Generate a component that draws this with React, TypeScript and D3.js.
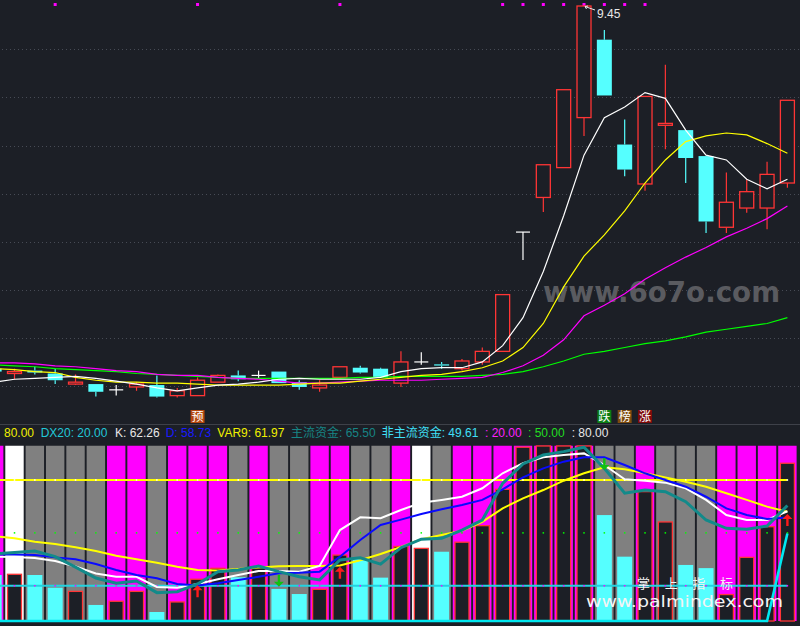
import React from "react";
import * as d3 from "d3";

// ---------------- data (index -1 .. 38) ----------------
const openP = [5.68, 5.63, 5.66, 5.63, 5.52, 5.52, 5.46, 5.49, 5.51, 5.40, 5.40, 5.54, 5.61, 5.61, 5.65, 5.54, 5.48, 5.59, 5.69, 5.68, 5.53, 5.75, 5.725, 5.68, 5.75, 5.86, 7.10, 7.46, 7.77, 8.29, 9.10, 8.01, 7.60, 8.21, 8.16, 7.89, 7.15, 7.35, 7.35, 7.61];
const highP = [5.69, 5.68, 5.70, 5.68, 5.62, 5.52, 5.51, 5.54, 5.61, 5.48, 5.59, 5.62, 5.66, 5.66, 5.65, 5.56, 5.56, 5.70, 5.71, 5.69, 5.86, 5.85, 5.75, 5.78, 5.90, 6.45, 7.10, 7.80, 8.58, 9.45, 9.20, 8.27, 8.51, 8.84, 8.16, 7.89, 7.72, 7.65, 7.83, 8.47];
const lowP = [5.64, 5.57, 5.62, 5.52, 5.51, 5.39, 5.40, 5.45, 5.38, 5.38, 5.40, 5.54, 5.55, 5.58, 5.53, 5.46, 5.44, 5.59, 5.63, 5.59, 5.49, 5.72, 5.68, 5.66, 5.72, 5.86, 6.81, 7.31, 7.77, 8.10, 8.52, 7.68, 7.53, 7.96, 7.61, 7.09, 7.09, 7.30, 7.13, 7.56];
const closeP = [5.65, 5.65, 5.64, 5.56, 5.54, 5.44, 5.46, 5.52, 5.39, 5.45, 5.56, 5.61, 5.57, 5.61, 5.53, 5.49, 5.51, 5.70, 5.64, 5.59, 5.75, 5.75, 5.72, 5.76, 5.86, 6.45, 7.10, 7.80, 8.58, 9.45, 8.52, 7.75, 8.51, 8.23, 7.87, 7.21, 7.41, 7.52, 7.70, 8.47];

const ma5 = [5.54, 5.57, 5.58, 5.59, 5.60, 5.58, 5.55, 5.52, 5.48, 5.45, 5.48, 5.51, 5.52, 5.54, 5.57, 5.58, 5.57, 5.57, 5.57, 5.59, 5.65, 5.68, 5.69, 5.69, 5.75, 5.92, 6.21, 6.69, 7.27, 7.90, 8.29, 8.40, 8.55, 8.49, 8.16, 7.90, 7.85, 7.65, 7.55, 7.65];
const ma10 = [5.68, 5.67, 5.65, 5.64, 5.59, 5.56, 5.54, 5.54, 5.53, 5.53, 5.52, 5.51, 5.51, 5.51, 5.51, 5.52, 5.53, 5.53, 5.55, 5.57, 5.59, 5.61, 5.62, 5.65, 5.69, 5.76, 5.90, 6.15, 6.53, 6.85, 7.07, 7.32, 7.61, 7.85, 8.04, 8.10, 8.13, 8.11, 8.02, 7.92];
const ma20 = [5.74, 5.74, 5.73, 5.71, 5.70, 5.68, 5.66, 5.65, 5.62, 5.61, 5.61, 5.59, 5.58, 5.57, 5.55, 5.53, 5.53, 5.54, 5.55, 5.56, 5.56, 5.56, 5.57, 5.58, 5.59, 5.64, 5.71, 5.82, 5.98, 6.23, 6.34, 6.46, 6.61, 6.73, 6.84, 6.94, 7.05, 7.14, 7.24, 7.37];
const ma60 = [5.72, 5.71, 5.70, 5.68, 5.67, 5.66, 5.65, 5.63, 5.62, 5.61, 5.60, 5.59, 5.58, 5.58, 5.58, 5.58, 5.58, 5.58, 5.59, 5.59, 5.60, 5.60, 5.60, 5.60, 5.61, 5.62, 5.65, 5.70, 5.76, 5.83, 5.86, 5.90, 5.94, 5.97, 6.01, 6.06, 6.09, 6.12, 6.15, 6.21];

const priceGrid = [5.5, 6, 6.5, 7, 7.5, 8, 8.5, 9];
const peakLabel = "9.45";
const peakIndex = 28;
const topMarks = [2, 9, 16, 24, 25, 26, 27, 28, 29, 30, 31];
const eventTags = [
  { i: 9, text: "预", kind: "pre" },
  { i: 29, text: "跌", kind: "fall" },
  { i: 30, text: "榜", kind: "list" },
  { i: 31, text: "涨", kind: "rise" },
];

const volume = [26.1, 26.5, 26.1, 18.9, 16.8, 9.1, 11.2, 16.8, 5.1, 10.8, 23.7, 29.9, 24.8, 30.5, 18.2, 15.3, 18.0, 37.4, 35.6, 24.6, 42.3, 41.2, 39.3, 44.7, 54.1, 74.7, 98.6, 99.3, 99.3, 99.3, 60.1, 36.5, 73.4, 56.2, 31.8, 30.0, 15.0, 36.1, 53.5, 89.5];
const zoneState = ["M", "W", "G", "G", "G", "G", "M", "M", "G", "M", "M", "M", "G", "M", "G", "G", "M", "M", "G", "G", "M", "W", "G", "M", "M", "M", "M", "M", "M", "M", "G", "G", "M", "G", "G", "G", "M", "M", "M", "M"];

const kLine = [36.6, 36.3, 35.7, 34.0, 30.9, 27.0, 25.1, 25.1, 19.3, 18.9, 21.0, 23.7, 26.1, 28.4, 28.4, 28.0, 31.2, 51.6, 58.8, 58.3, 63.0, 67.1, 68.7, 70.5, 75.3, 83.8, 89.5, 92.9, 94.2, 95.1, 88.5, 80.4, 79.6, 78.5, 75.3, 68.7, 60.1, 57.3, 57.3, 62.26];
const dLine = [37.7, 37.7, 37.4, 36.1, 35.0, 32.3, 28.9, 26.1, 24.2, 21.0, 20.1, 21.4, 23.3, 25.1, 27.1, 27.4, 28.0, 36.5, 46.0, 54.5, 57.5, 60.7, 63.4, 65.8, 68.7, 74.7, 81.5, 86.6, 90.4, 92.9, 92.9, 88.5, 83.8, 80.0, 76.2, 70.5, 63.9, 60.1, 57.9, 58.73];
const var9 = [48.2, 46.9, 45.0, 43.7, 41.8, 39.7, 37.0, 35.0, 33.1, 30.8, 28.9, 28.7, 29.5, 30.4, 31.0, 31.2, 31.2, 31.5, 34.5, 38.0, 42.0, 46.4, 48.8, 51.2, 56.3, 63.9, 69.6, 74.3, 79.6, 83.8, 87.2, 86.1, 83.8, 81.5, 79.0, 76.2, 72.5, 68.7, 64.9, 61.97];
const mainFund = [38.0, 38.8, 39.7, 36.5, 30.6, 24.4, 21.4, 22.7, 16.1, 16.6, 21.0, 28.0, 28.9, 31.2, 28.0, 25.1, 23.3, 34.6, 35.9, 32.3, 41.6, 46.4, 46.9, 51.6, 57.3, 78.1, 89.1, 94.2, 96.1, 98.6, 86.6, 72.5, 74.3, 73.4, 67.7, 57.3, 52.6, 52.0, 53.9, 65.5];
const otherFund = [0, 0, 0, 0, 0, 0, 0, 0, 0, 0, 0, 0, 0, 0, 0, 0, 0, 0, 0, 0, 0, 0, 0, 0, 0, 0, 0, 0, 0, 0, 0, 0, 0, 0, 0, 0, 0, 0, 0, 49.61];
const levelSolid = [80, 20];
const levelDots = [20, 50, 80];
const signals = [
  { i: 9, dir: "up", v: 20.3 },
  { i: 13, dir: "down", v: 19.5 },
  { i: 16, dir: "up", v: 30.8 },
  { i: 29, dir: "down", v: 85.7 },
  { i: 38, dir: "up", v: 60.7 },
];

const headerLabels = ["", "DX20: ", "K: ", "D: ", "VAR9: ", "主流资金: ", "非主流资金: ", ": ", ": ", ": "];
const headerValues = ["80.00", "20.00", "62.26", "58.73", "61.97", "65.50", "49.61", "20.00", "50.00", "80.00"];

// ---------------- styles / layout ----------------
const BG = "#1c1f26";
const RED = "#ff3535";
const CYAN = "#55ffff";
const headerColors = ["#f0f000", "#22c8d8", "#e8e8e8", "#1a1aff", "#f0f000", "#178585", "#40e0f8", "#ff22ff", "#22dd22", "#e8e8e8"];
const headerX = [4, 40.7, 115, 165.7, 217.3, 291, 381.7, 485, 528, 571.7];
const zoneColor: Record<string, string> = { M: "#ff00ff", W: "#ffffff", G: "#808080" };
const tagColor: Record<string, string> = { pre: "#b4460e", fall: "#0b7d12", list: "#7d4a0e", rise: "#7d0b0b" };

const FIRST = -1;
const idx = openP.map((_, k) => k + FIRST);

export default function App() {
  const x = d3.scaleLinear().domain([0, 38]).range([14.5, 787.4]);
  const yP = d3.scaleLinear().domain([5.5, 9.0]).range([386, 49.3]);
  const yB = d3.scaleLinear().domain([0, 100]).range([621, 444.75]);
  const bodyW = 14;

  const priceLine = (arr: number[]) =>
    d3.line<number>().x((_, k) => x(k + FIRST)).y((v) => yP(v))(arr) || "";
  const panelLine = (arr: number[]) =>
    d3.line<number>().x((_, k) => x(k + FIRST)).y((v) => yB(v))(arr) || "";

  const candles = idx.map((i, k) => {
    const o = openP[k], c = closeP[k], h = highP[k], l = lowP[k];
    const xc = x(i);
    const top = yP(Math.max(o, c));
    const bot = yP(Math.min(o, c));
    const up = c > o, down = c < o;
    if (!up && !down) {
      return (
        <g key={"c" + i} stroke="#ffffff" strokeWidth={1.2}>
          <line x1={xc} x2={xc} y1={yP(h)} y2={yP(l)} />
          <line x1={xc - 7} x2={xc + 7} y1={top} y2={top} />
        </g>
      );
    }
    const col = up ? RED : CYAN;
    const bh = Math.max(bot - top, 1.2);
    return (
      <g key={"c" + i}>
        <line x1={xc} x2={xc} y1={yP(h)} y2={top} stroke={col} strokeWidth={1.2} />
        <line x1={xc} x2={xc} y1={top + bh} y2={yP(l)} stroke={col} strokeWidth={1.2} />
        {up ? (
          <rect x={xc - bodyW / 2} y={top} width={bodyW} height={bh} fill={BG} stroke={col} strokeWidth={1.3} />
        ) : (
          <rect x={xc - 7.5} y={top} width={15} height={bh} fill={col} />
        )}
      </g>
    );
  });

  const xp = x(peakIndex);
  const yp = yP(highP[peakIndex - FIRST]);

  return (
    <svg width={800} height={626} style={{ position: "absolute", left: 0, top: 0, display: "block" }}
      fontFamily="'Liberation Sans', 'Noto Sans CJK SC', sans-serif">
      <rect x={0} y={0} width={800} height={626} fill={BG} />

      {/* top markers */}
      {topMarks.map((i) => (
        <rect key={"tm" + i} x={x(i) - 1.5} y={3} width={3} height={3} fill="#ff00ff" />
      ))}

      {/* grid */}
      {priceGrid.map((p) => (
        <line key={"g" + p} x1={2} x2={800} y1={Math.round(yP(p)) + 0.5} y2={Math.round(yP(p)) + 0.5}
          stroke="#474b55" strokeWidth={1} strokeDasharray="1 3" />
      ))}

      {/* watermark */}
      <text x={543} y={302} fontFamily="'DejaVu Sans', sans-serif" fontWeight="bold" fontSize={29}
        fill="#5a5b60" textLength={237} lengthAdjust="spacingAndGlyphs">www.6o7o.com</text>

      {candles}

      {/* moving averages */}
      <path d={priceLine(ma60)} fill="none" stroke="#00ff00" strokeWidth={1.2} />
      <path d={priceLine(ma20)} fill="none" stroke="#ff00ff" strokeWidth={1.2} />
      <path d={priceLine(ma10)} fill="none" stroke="#ffff00" strokeWidth={1.2} />
      <path d={priceLine(ma5)} fill="none" stroke="#ffffff" strokeWidth={1.2} />

      {/* peak label */}
      <g stroke="#e8e8e8" strokeWidth={1} fill="none">
        <line x1={xp + 1} y1={yp + 0.5} x2={xp + 11} y2={yp + 4} />
        <line x1={xp + 1} y1={yp + 0.5} x2={xp + 4} y2={yp} />
        <line x1={xp + 1} y1={yp + 0.5} x2={xp + 2.5} y2={yp + 3} />
      </g>
      <text x={597} y={17.5} fontSize={12} fill="#e8e8e8">{peakLabel}</text>

      {/* event tags */}
      {eventTags.map((t) => (
        <g key={"t" + t.i}>
          <rect x={x(t.i) - 7} y={410} width={14} height={13} fill={tagColor[t.kind]} />
          <text x={x(t.i)} y={421} fontSize={12} fill="#ffffff" textAnchor="middle">{t.text}</text>
        </g>
      ))}

      {/* separator */}
      <line x1={0} x2={800} y1={424.5} y2={424.5} stroke="#3e4149" strokeWidth={1} />

      {/* header */}
      {headerValues.map((v, k) => (
        <text key={"h" + k} x={headerX[k]} y={437} fontSize={12} fill={headerColors[k]}>
          {headerLabels[k] + v}
        </text>
      ))}

      {/* indicator panel background columns */}
      {idx.map((i, k) => (
        <rect key={"z" + i} x={x(i) - 9.2} y={yB(100) + 1} width={18.4} height={yB(0) - yB(100) - 1}
          fill={zoneColor[zoneState[k]]} />
      ))}

      {/* volume bars */}
      {idx.map((i, k) => {
        const up = closeP[k] >= openP[k];
        const yt = yB(volume[k]);
        return up ? (
          <rect key={"v" + i} x={x(i) - 7} y={yt} width={14} height={yB(0) - yt} fill={BG} stroke={RED} strokeWidth={1.3} />
        ) : (
          <rect key={"v" + i} x={x(i) - 7.5} y={yt} width={15} height={yB(0) - yt} fill={CYAN} />
        );
      })}

      {/* level lines */}
      <line x1={x(FIRST)} x2={x(38)} y1={yB(levelSolid[0])} y2={yB(levelSolid[0])} stroke="#ffff00" strokeWidth={2} />
      <line x1={x(FIRST)} x2={x(38)} y1={yB(levelSolid[1])} y2={yB(levelSolid[1])} stroke="#22d3e0" strokeWidth={2} />
      {idx.map((i) => (
        <g key={"d" + i}>
          <rect x={x(i) - 0.75} y={yB(levelDots[0]) - 0.75} width={1.5} height={1.5} fill="#ff00ff" />
          <rect x={x(i) - 0.75} y={yB(levelDots[1]) - 0.75} width={1.5} height={1.5} fill="#00ff00" />
          <rect x={x(i) - 0.75} y={yB(levelDots[2]) - 0.75} width={1.5} height={1.5} fill="#ffffff" />
        </g>
      ))}

      {/* indicator lines */}
      <path d={panelLine(var9)} fill="none" stroke="#ffff00" strokeWidth={2} />
      <path d={panelLine(kLine)} fill="none" stroke="#ffffff" strokeWidth={2} />
      <path d={panelLine(dLine)} fill="none" stroke="#0a0aff" strokeWidth={2} />
      <path d={panelLine(mainFund)} fill="none" stroke="#128a8a" strokeWidth={3} />
      <path d={panelLine(otherFund)} fill="none" stroke="#00e8f0" strokeWidth={2.6} />

      {/* signals */}
      {signals.map((s) => {
        const xc = x(s.i);
        const yt = yB(s.v);
        const col = s.dir === "up" ? "#ff1a1a" : "#10c010";
        const d = s.dir === "up"
          ? `M${xc},${yt} L${xc + 5},${yt + 5} L${xc + 1.2},${yt + 5} L${xc + 1.2},${yt + 12} L${xc - 1.2},${yt + 12} L${xc - 1.2},${yt + 5} L${xc - 5},${yt + 5} Z`
          : `M${xc},${yt} L${xc + 5},${yt - 5} L${xc + 1.2},${yt - 5} L${xc + 1.2},${yt - 12} L${xc - 1.2},${yt - 12} L${xc - 1.2},${yt - 5} L${xc - 5},${yt - 5} Z`;
        return <path key={"s" + s.i} d={d} fill={col} />;
      })}

      {/* bottom watermark */}
      <text x={637} y={587.5} fontSize={13} fill="#f4f4f4" fontFamily="'Noto Sans CJK SC', sans-serif"
        textLength={96} lengthAdjust="spacing">掌 上 指 标</text>
      <text x={586} y={607} fontSize={16} fill="#f4f4f4" fontFamily="'DejaVu Sans', sans-serif"
        textLength={197} lengthAdjust="spacingAndGlyphs">www.palmindex.com</text>
    </svg>
  );
}
